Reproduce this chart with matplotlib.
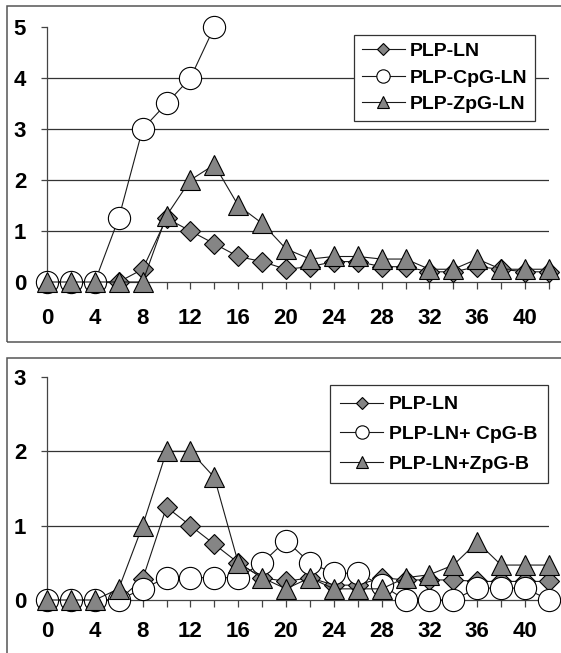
import matplotlib
matplotlib.use('Agg')
import matplotlib.pyplot as plt
from matplotlib.patches import Rectangle

# ---------------- data ----------------
days = list(range(0, 43, 2))
x_tick_labels = [str(d) for d in range(0, 41, 4)]

top_labels = ['PLP-LN', 'PLP-CpG-LN', 'PLP-ZpG-LN']
top_ln = [0, 0, 0, 0, 0.25, 1.25, 1.0, 0.75, 0.5, 0.4, 0.25, 0.3, 0.4, 0.4, 0.3, 0.3, 0.2, 0.2, 0.3, 0.25, 0.2, 0.2]
top_cpg_days = [0, 2, 4, 6, 8, 10, 12, 14]
top_cpg = [0, 0, 0, 1.25, 3.0, 3.5, 4.0, 5.0]
top_zpg = [0, 0, 0, 0, 0, 1.3, 2.0, 2.3, 1.5, 1.15, 0.65, 0.45, 0.5, 0.5, 0.45, 0.45, 0.25, 0.25, 0.45, 0.25, 0.25, 0.25]

bot_labels = ['PLP-LN', 'PLP-LN+ CpG-B', 'PLP-LN+ZpG-B']
bot_ln = [0, 0, 0, 0, 0.28, 1.25, 1.0, 0.75, 0.5, 0.3, 0.25, 0.3, 0.2, 0.2, 0.3, 0.27, 0.27, 0.27, 0.25, 0.25, 0.25, 0.25]
bot_cpg = [0, 0, 0, 0, 0.15, 0.3, 0.3, 0.3, 0.3, 0.5, 0.8, 0.5, 0.36, 0.36, 0.2, 0, 0, 0, 0.16, 0.16, 0.16, 0]
bot_zpg = [0, 0, 0, 0.15, 1.0, 2.0, 2.0, 1.65, 0.5, 0.3, 0.15, 0.3, 0.15, 0.15, 0.15, 0.3, 0.34, 0.47, 0.78, 0.47, 0.47, 0.47]

# ---------------- style ----------------
plt.rcParams['font.family'] = ['Liberation Sans', 'DejaVu Sans']
plt.rcParams['font.weight'] = 'bold'
W, H = 561, 653
fig = plt.figure(figsize=(W / 100, H / 100), dpi=100)

GRAY = '#858585'
LINEC = '#1a1a1a'
TICKFS = 16

def px_axes(x0, x1, ytop, ybot):
    return fig.add_axes([x0 / W, 1 - ybot / H, (x1 - x0) / W, (ybot - ytop) / H])

def style_axes(ax, ymax, xpad):
    ax.set_xlim(0, 42)
    ax.set_ylim(0, ymax)
    for s in ['top', 'right']:
        ax.spines[s].set_visible(False)
    for s in ['left', 'bottom']:
        ax.spines[s].set_color('#444444')
        ax.spines[s].set_linewidth(0.9)
    ax.set_yticks(range(0, ymax + 1))
    ax.set_yticklabels([str(i) for i in range(0, ymax + 1)], fontsize=TICKFS, fontweight='bold')
    ax.set_xticks(days)
    ax.set_xticklabels([str(d) if str(d) in x_tick_labels else '' for d in days],
                       fontsize=TICKFS, fontweight='bold')
    ax.tick_params(axis='y', direction='out', length=4, width=0.9, color='#444444', pad=11)
    ax.tick_params(axis='x', direction='out', length=5, width=0.9, color='#444444', pad=xpad)
    for g in range(1, ymax):
        ax.axhline(g, color='#333333', lw=0.9, zorder=0)
    ax.patch.set_alpha(0)

def draw(ax, x, y, marker, ms, face, label, z):
    ax.plot(x, y, color=LINEC, lw=0.8, marker=marker, ms=ms, mfc=face, mec='black',
            mew=0.8, clip_on=False, zorder=z, label=label)

# outer panel frames
fig.patches.append(Rectangle((7 / W, 1 - 342 / H), 1.0, (342 - 6) / H, transform=fig.transFigure,
                             fill=False, ec='#555555', lw=1.1))
fig.patches.append(Rectangle((7 / W, -0.2), 1.0, (1 - 358 / H) + 0.2, transform=fig.transFigure,
                             fill=False, ec='#555555', lw=1.1))

# ---------------- top panel ----------------
ax1 = px_axes(47, 549, 27, 282)
style_axes(ax1, 5, 13.5)
draw(ax1, days, top_ln, 'D', 10, GRAY, top_labels[0], 3)
draw(ax1, top_cpg_days, top_cpg, 'o', 16, 'white', top_labels[1], 4)
draw(ax1, days, top_zpg, '^', 15, GRAY, top_labels[2], 5)
leg1 = ax1.legend(loc='upper right', bbox_to_anchor=(0.972, 0.969), borderaxespad=0,
                  fancybox=False, edgecolor='#333333', framealpha=1, markerscale=0.6,
                  handlelength=2.2, handletextpad=0.25, borderpad=0.4, labelspacing=0.45,
                  prop={'size': 14, 'weight': 'bold'})
leg1.get_frame().set_linewidth(0.9)
leg1.set_zorder(10)

# ---------------- bottom panel ----------------
ax2 = px_axes(47, 549, 377, 600)
style_axes(ax2, 3, 10)
draw(ax2, days, bot_ln, 'D', 10, GRAY, bot_labels[0], 3)
draw(ax2, days, bot_cpg, 'o', 16, 'white', bot_labels[1], 4)
draw(ax2, days, bot_zpg, '^', 15, GRAY, bot_labels[2], 5)
leg2 = ax2.legend(loc='upper right', bbox_to_anchor=(0.998, 0.964), borderaxespad=0,
                  fancybox=False, edgecolor='#333333', framealpha=1, markerscale=0.6,
                  handlelength=2.2, handletextpad=0.3, borderpad=0.55, labelspacing=0.62,
                  prop={'size': 14, 'weight': 'bold'})
leg2.get_frame().set_linewidth(0.9)
leg2.set_zorder(10)

fig.savefig('out.png', dpi=100)
